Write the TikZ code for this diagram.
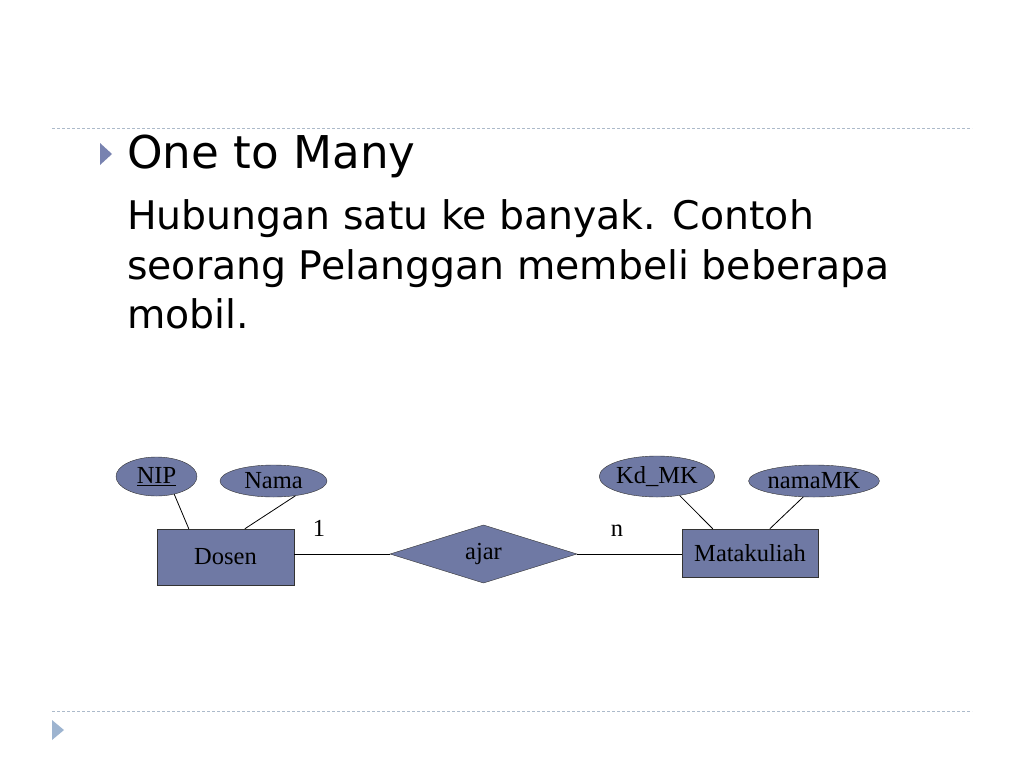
\documentclass[tikz,border=0pt]{standalone}
\usepackage{fontspec}
\setmainfont{Liberation Serif}
\newfontfamily\slidefont{DejaVu Sans}
\usetikzlibrary{shapes.geometric,positioning}
\definecolor{erfill}{RGB}{111,121,164}
\definecolor{rulegray}{RGB}{172,186,202}
\definecolor{bulletblue}{RGB}{120,130,176}
\definecolor{bulletlight}{RGB}{157,180,208}

\begin{document}
\begin{tikzpicture}[x=1pt, y=-1pt,
    entity/.style={rectangle, draw=black!80, fill=erfill, inner sep=0pt, font=\fontsize{24.5}{26}\selectfont},
    attrib/.style={ellipse, draw=black!80, fill=erfill, inner sep=0pt, font=\fontsize{24.5}{26}\selectfont},
    relation/.style={diamond, draw=black!80, fill=erfill, inner sep=0pt, font=\fontsize{24.5}{26}\selectfont},
    card/.style={anchor=base, inner sep=0pt, font=\fontsize{24.5}{26}\selectfont},
    slidetext/.style={anchor=base west, inner sep=0pt},
    conn/.style={draw=black, line width=0.8pt}
]
    \useasboundingbox (0,0) rectangle (1024,768);

    % slide frame
    \draw[rulegray, line width=1pt, dash pattern=on 3pt off 2pt] (52,128) -- (972,128);
    \draw[rulegray, line width=1pt, dash pattern=on 3pt off 2pt] (52,711) -- (972,711);
    \fill[bulletblue] (100,143) -- (112,154) -- (100,165) -- cycle;
    \fill[bulletlight] (52,720) -- (64,730) -- (52,740) -- cycle;

    % text
    \node[slidetext, font=\slidefont\fontsize{45.2}{50}\selectfont] (title) at (127,168) {One to Many};
    \node[slidetext, font=\slidefont\fontsize{39.4}{50}\selectfont] (para1) at (127,229) {Hubungan satu ke banyak. Contoh};
    \node[slidetext, font=\slidefont\fontsize{39.4}{50}\selectfont] (para2) at (127,279) {seorang Pelanggan membeli beberapa};
    \node[slidetext, font=\slidefont\fontsize{39.4}{50}\selectfont] (para3) at (127,328) {mobil.};

    % entities and relation
    \node[entity, minimum width=137pt, minimum height=56pt] (dosen) at (225.5,557) {Dosen};
    \node[entity, minimum width=136pt, minimum height=48pt] (matakuliah) at (750,553) {Matakuliah};
    \node[relation, minimum width=187pt, minimum height=57pt] (ajar) at (483.5,554) {ajar};

    % attributes
    \node[attrib, minimum width=81pt, minimum height=39pt] (nip) at (156.5,476.5) {\underline{NIP}};
    \node[attrib, minimum width=107pt, minimum height=32pt] (nama) at (273.5,481) {Nama};
    \node[attrib, minimum width=114pt, minimum height=41pt] (kdmk) at (657,476.5) {Kd\_MK};
    \node[attrib, minimum width=104pt, minimum height=32pt] (namamk) at (814,481) {namaMK};

    % cardinality
    \node[card] (one) at (319,536) {1};
    \node[card] (many) at (617,536) {n};

    % connectors
    \draw[conn] (ajar.west) -- (ajar.west -| dosen.east);
    \draw[conn] (ajar.east) -- (ajar.east -| matakuliah.west);
    \draw[conn] (nip.-45) -- ([xshift=32pt]dosen.north west);
    \draw[conn] (nama.-34) -- ([xshift=88pt]dosen.north west);
    \draw[conn] (kdmk.-40) -- ([xshift=31pt]matakuliah.north west);
    \draw[conn] (namamk.-124) -- ([xshift=88pt]matakuliah.north west);
\end{tikzpicture}
\end{document}
